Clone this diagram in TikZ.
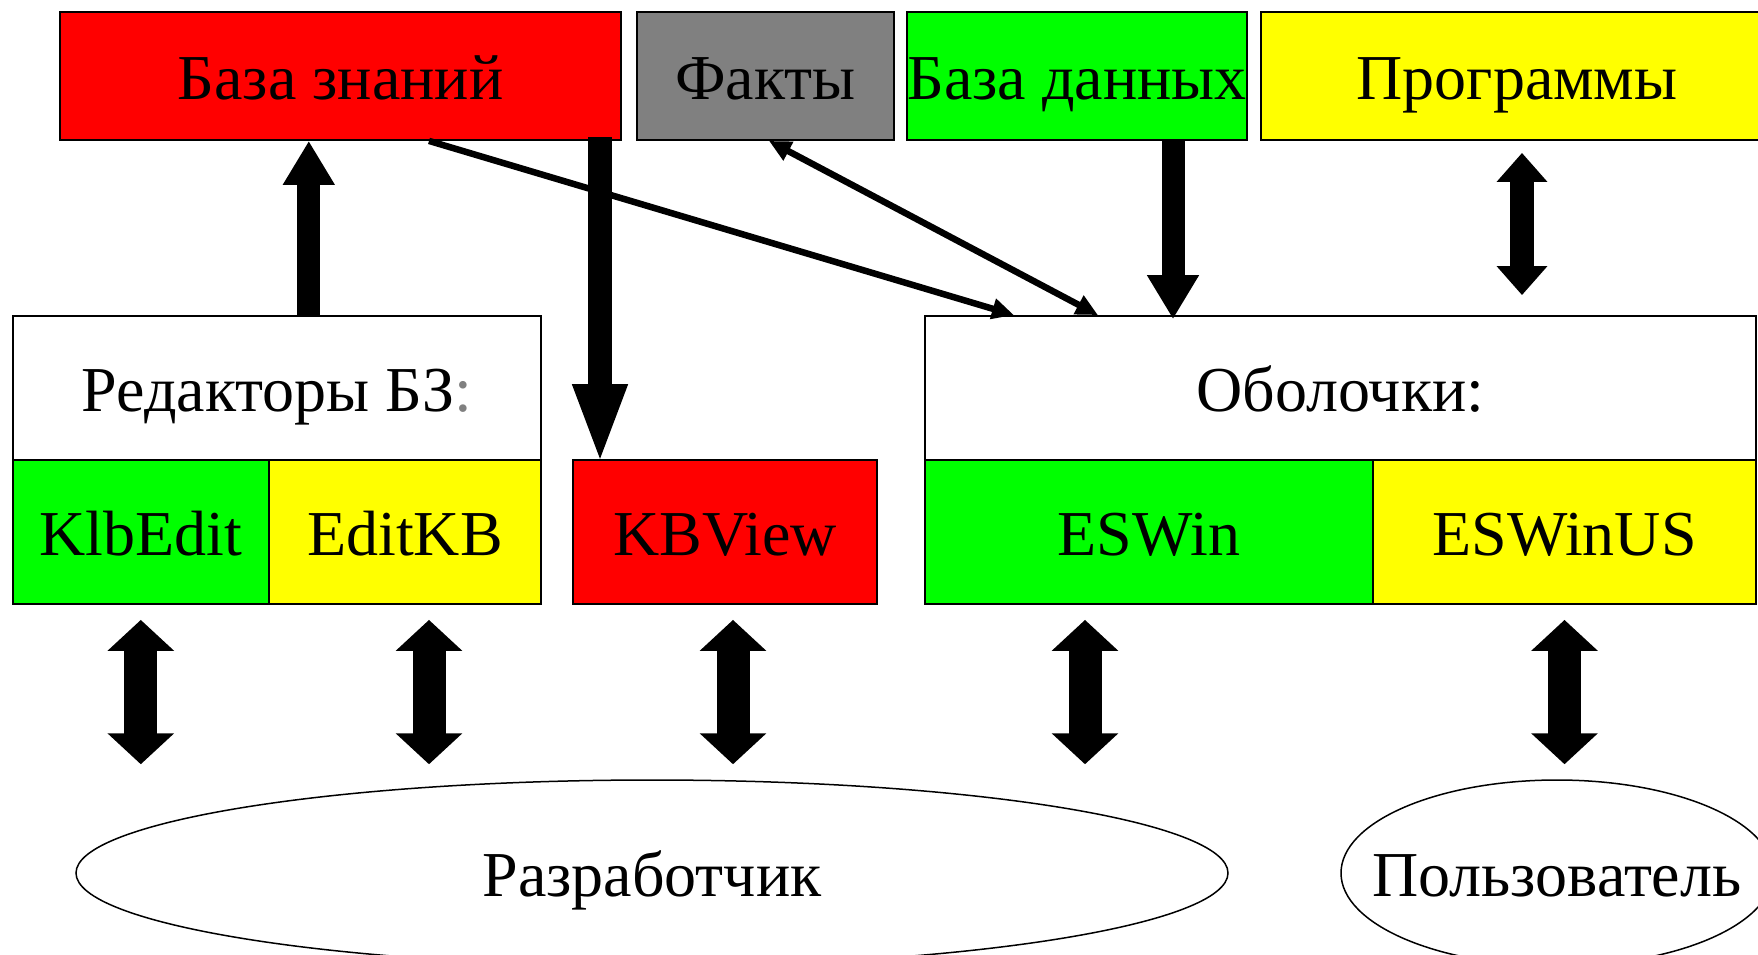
\documentclass[tikz,border=0pt]{standalone}
\usepackage{fontspec}
\setmainfont{Liberation Serif}
\usetikzlibrary{arrows.meta,shapes.geometric,calc}
\definecolor{cred}{RGB}{255,0,0}
\definecolor{cgray}{RGB}{128,128,128}
\definecolor{cgreen}{RGB}{0,255,0}
\definecolor{cyellow}{RGB}{255,255,0}
\definecolor{colgray}{RGB}{128,128,128}
\begin{document}
\begin{tikzpicture}[x=1pt,y=-1pt,
  txt/.style={font=\fontsize{64}{72}\selectfont, text height=46pt, text depth=0pt, inner sep=0pt},
  box/.style={txt, draw=black, line width=1.8pt, minimum height=128pt},
  boxb/.style={txt, draw=black, line width=1.8pt, minimum height=144pt},
  ell/.style={draw=black, line width=1.5pt, ellipse, inner sep=0pt},
  thickarrow/.style={line width=23pt, -{Triangle[length=44pt,width=49pt]}},
  longarrow/.style={line width=24pt, -{Triangle[length=81pt,width=49pt]}},
  progarrow/.style={line width=24pt, {Triangle[length=29pt,width=49pt]}-{Triangle[length=29pt,width=49pt]}},
  bidi/.style={line width=33pt, {Triangle[length=31pt,width=65pt]}-{Triangle[length=31pt,width=65pt]}},
  thinarrow/.style={line width=6.5pt, -{Triangle[length=22pt,width=20pt]}},
  thinbidi/.style={line width=6.5pt, {Triangle[length=22pt,width=20pt]}-{Triangle[length=22pt,width=20pt]}}
]
\useasboundingbox (0,0) rectangle (1758,954);

% top row
\node[box, fill=cred,    minimum width=561pt] (kb)    at (340.5,76) {База знаний};
\node[box, fill=cgray,   minimum width=257pt] (facts) at (765.5,76) {Факты};
\node[box, fill=cgreen,  minimum width=336pt] (db)    at (1077,76)  {База данных};
\node[box, fill=cyellow, minimum width=512pt] (prog)  at (1517,76)  {Программы};

% second row
\node[boxb, fill=white,   minimum width=528.4pt] (ed)   at (276.8,388) {Редакторы БЗ\textcolor{colgray}{:}};
\node[boxb, fill=cgreen,  minimum width=256.4pt] (kled) at (140.8,532) {KlbEdit};
\node[boxb, fill=cyellow, minimum width=272pt]   (edkb) at (405,532)   {EditKB};
\node[boxb, fill=cred,    minimum width=304pt]   (kbv)  at (725,532)   {KBView};
\node[boxb, fill=white,   minimum width=831pt]   (ob)   at (1340.5,388) {Оболочки:};
\node[boxb, fill=cgreen,  minimum width=448pt]   (esw)  at (1149,532)  {ESWin};
\node[boxb, fill=cyellow, minimum width=383pt]   (esus) at (1564.5,532) {ESWinUS};

% ellipses
\node[ell, minimum width=1152pt, minimum height=186pt] (dev)  at (652,873) {};
\node[txt] (devt) at (dev.center) {Разработчик};
\node[ell, minimum width=432pt, minimum height=186pt] (user) at (1557,873) {};
\node[txt] (usert) at (user.center) {Пользователь};

% arrows between top and second rows
\draw[thickarrow] ([xshift=32pt]ed.north) -- ([xshift=32pt]ed.north |- kb.south);
\draw[longarrow, shorten >=-6pt] ($([xshift=-125pt]kbv.north |- kb.south)+(0,-4)$) -- ([xshift=-125pt]kbv.north);
\draw[thickarrow, shorten >=-4pt] ([xshift=96pt]db.south) -- ([xshift=96pt]db.south |- ob.north);
\draw[thinarrow] ([xshift=88.5pt]kb.south) -- ([xshift=-326.5pt]ob.north);
\draw[thinbidi] ([xshift=-242.5pt]ob.north) -- ([xshift=3.5pt]facts.south);

\coordinate (p1) at ($([xshift=5pt]prog.south)+(0,12)$);
\coordinate (p2) at ($(p1 |- ob.north)+(0,-20)$);
\draw[progarrow] (p1) -- (p2);

% bottom double arrows
\coordinate (t1) at ($(kled.south)+(0,15)$);
\coordinate (u1) at ($(t1 |- dev.north)+(0,-15)$);
\draw[bidi] (t1) -- (u1);
\coordinate (t2) at ($([xshift=24pt]edkb.south)+(0,15)$);
\coordinate (u2) at ($(t2 |- dev.north)+(0,-15)$);
\draw[bidi] (t2) -- (u2);
\coordinate (t3) at ($([xshift=8pt]kbv.south)+(0,15)$);
\coordinate (u3) at ($(t3 |- dev.north)+(0,-15)$);
\draw[bidi] (t3) -- (u3);
\coordinate (t4) at ($([xshift=-64pt]esw.south)+(0,15)$);
\coordinate (u4) at ($(t4 |- dev.north)+(0,-15)$);
\draw[bidi] (t4) -- (u4);
\coordinate (t5) at ($(esus.south)+(0,15)$);
\coordinate (u5) at ($(t5 |- user.north)+(0,-15)$);
\draw[bidi] (t5) -- (u5);
\end{tikzpicture}
\end{document}
